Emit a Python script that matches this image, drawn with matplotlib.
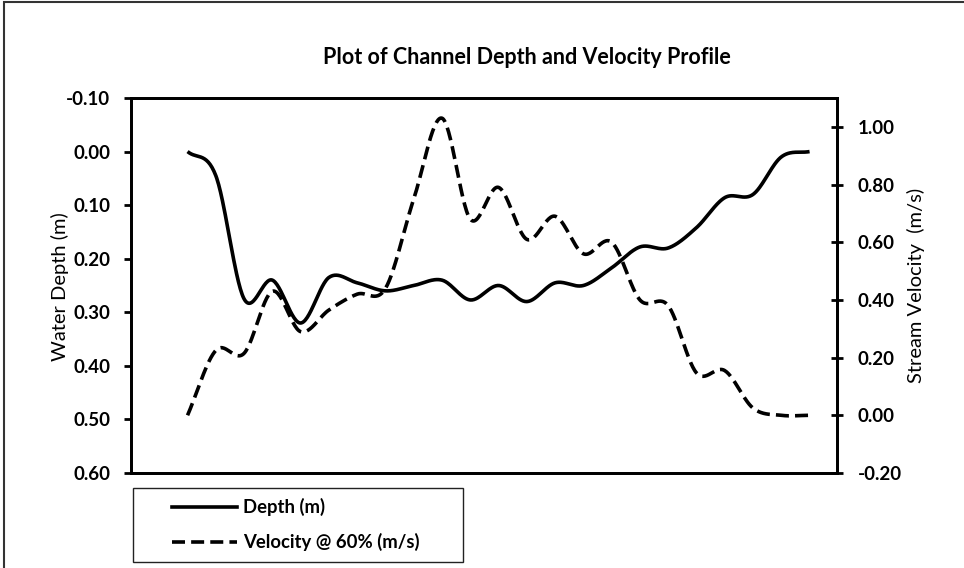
import numpy as np
import matplotlib
matplotlib.use("Agg")
import matplotlib.pyplot as plt
from matplotlib.patches import Rectangle
from matplotlib.lines import Line2D

plt.rcParams['font.family'] = ['Lato', 'DejaVu Sans']

# ---- data ----
stations = list(range(23))
depth = [0.00, 0.045, 0.275, 0.24, 0.32, 0.235, 0.245, 0.26, 0.25, 0.24, 0.277,
         0.25, 0.28, 0.245, 0.25, 0.217, 0.178, 0.18, 0.142, 0.086, 0.08, 0.01, 0.00]
velocity = [0.00, 0.225, 0.215, 0.43, 0.29, 0.365, 0.42, 0.44, 0.75, 1.03, 0.68,
            0.79, 0.61, 0.69, 0.56, 0.60, 0.40, 0.38, 0.147, 0.155, 0.025, 0.00, 0.00]
left_ticks = [-0.10, 0.00, 0.10, 0.20, 0.30, 0.40, 0.50, 0.60]
right_ticks = [-0.20, 0.00, 0.20, 0.40, 0.60, 0.80, 1.00]
series_names = ['Depth (m)', 'Velocity @ 60% (m/s)']


def smooth(x, y, n=30):
    x = np.asarray(x, float)
    y = np.asarray(y, float)
    xp = np.concatenate([[2 * x[0] - x[1]], x, [2 * x[-1] - x[-2]]])
    yp = np.concatenate([[2 * y[0] - y[1]], y, [2 * y[-1] - y[-2]]])
    xs, ys = [], []
    t = np.linspace(0, 1, n, endpoint=False)
    for i in range(1, len(x)):
        p0, p1, p2, p3 = yp[i - 1], yp[i], yp[i + 1], yp[i + 2]
        q0, q1, q2, q3 = xp[i - 1], xp[i], xp[i + 1], xp[i + 2]
        def cr(a0, a1, a2, a3):
            return 0.5 * ((2 * a1) + (-a0 + a2) * t + (2 * a0 - 5 * a1 + 4 * a2 - a3) * t ** 2
                          + (-a0 + 3 * a1 - 3 * a2 + a3) * t ** 3)
        xs.append(cr(q0, q1, q2, q3))
        ys.append(cr(p0, p1, p2, p3))
    xs.append([x[-1]])
    ys.append([y[-1]])
    return np.concatenate(xs), np.concatenate(ys)


DASH = (0, (3.6, 1.7))
LW = 2.6

fig = plt.figure(figsize=(9.64, 5.68), dpi=100)
W, H = 964, 568
ax = fig.add_axes([131 / W, 1 - 473 / H, (837 - 131) / W, (473 - 98) / H])
ax2 = ax.twinx()

sx, sy = smooth(stations, depth)
ax.plot(sx, sy, color='black', lw=LW, solid_capstyle='butt')
vx, vy = smooth(stations, velocity)
ax2.plot(vx, vy, color='black', lw=LW, linestyle=DASH)

ax.set_xlim(-2.0, 22.97)
ax.set_ylim(0.60, -0.10)
ax.set_yticks(left_ticks)
ax.set_yticklabels([f"{v:.2f}" for v in left_ticks], fontsize=13.5, fontweight='bold')
ax.set_xticks([])
ax2.set_ylim(-0.20, 1.10)
ax2.set_yticks(right_ticks)
ax2.set_yticklabels([f"{v:.2f}" for v in right_ticks], fontsize=13.5, fontweight='bold')

for a in (ax, ax2):
    for s in a.spines.values():
        s.set_linewidth(2.0)
        s.set_color('black')
ax.tick_params(axis='y', direction='out', length=5, width=2, pad=10)
ax2.tick_params(axis='y', direction='inout', length=8, width=2, pad=11)

fig.text(60 / W, 1 - 287 / H, 'Water Depth (m)', rotation=90, ha='center',
         va='center', fontsize=14.5)
fig.text(916 / W, 1 - 285 / H, 'Stream Velocity  (m/s)', rotation=90, ha='center',
         va='center', fontsize=14.5)

fig.text(527 / W, 1 - 58 / H, 'Plot of Channel Depth and Velocity Profile',
         ha='center', va='center', fontsize=15.5, fontweight='bold')

# legend box (drawn manually to match the fixed-size legend)
fig.patches.append(Rectangle((133 / W, 1 - 562 / H), (463 - 133) / W, (562 - 488) / H,
                             transform=fig.transFigure, fill=False, lw=1.0,
                             edgecolor='#222222'))
for yy, ls, name in [(507, '-', series_names[0]), (542, DASH, series_names[1])]:
    fig.lines.append(Line2D([172 / W, 237 / W], [1 - yy / H, 1 - yy / H],
                            transform=fig.transFigure, color='black', lw=LW,
                            linestyle=ls))
    fig.text(243 / W, 1 - yy / H, name, ha='left', va='center',
             fontsize=13.3, fontweight='bold')

fig.patches.append(Rectangle((4 / W, -0.1), 1.2, 1.1 - 2 / H, transform=fig.transFigure,
                             fill=False, lw=1.5, edgecolor='#333333'))

fig.savefig('out.png', dpi=100)
